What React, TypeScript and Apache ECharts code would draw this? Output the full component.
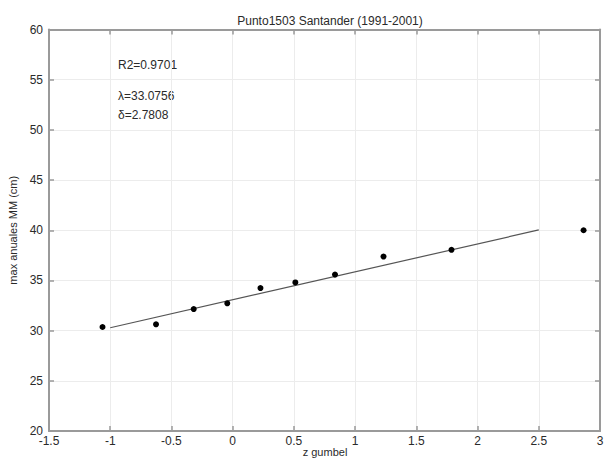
import React, { useEffect, useRef } from "react";
import * as echarts from "echarts";

const titleText = "Punto1503 Santander (1991-2001)";
const xName = "z gumbel";
const yName = "max anuales MM (cm)";
const zGumbel = [-1.063, -0.626, -0.318, -0.044, 0.227, 0.512, 0.836, 1.232, 1.787, 2.866];
const maxAnuales = [30.36, 30.63, 32.15, 32.72, 34.24, 34.8, 35.58, 37.38, 38.05, 40.0];
const fitX = [-1.0, 2.5];
const fitY = [30.29, 40.03];
const annotations = ["R2=0.9701", "λ=33.0756", "δ=2.7808"];

const axisGray = "#9a9a9a";
const textColor = "#2a2a2a";
const font = "Liberation Sans, Arial, sans-serif";

export default function App() {
  const ref = useRef<HTMLDivElement>(null);
  useEffect(() => {
    document.body.style.margin = "0";
    const chart = echarts.init(ref.current!, null, { renderer: "svg" });
    const baseX = {
      type: "value" as const,
      min: -1.5,
      max: 3,
      interval: 0.5,
      axisLine: { show: true, onZero: false, lineStyle: { color: axisGray, width: 2 } },
      axisTick: { show: true, inside: true, length: 5, lineStyle: { color: axisGray, width: 1.5 } },
    };
    const baseY = {
      type: "value" as const,
      min: 20,
      max: 60,
      interval: 5,
      axisLine: { show: true, onZero: false, lineStyle: { color: axisGray, width: 2 } },
      axisTick: { show: true, inside: true, length: 5, lineStyle: { color: axisGray, width: 1.5 } },
    };
    chart.setOption({
      animation: false,
      backgroundColor: "#ffffff",
      textStyle: { fontFamily: font },
      title: {
        text: titleText,
        left: 325,
        textAlign: "center",
        top: 10,
        textStyle: { fontSize: 12, fontWeight: "normal", color: textColor, fontFamily: font },
      },
      grid: { left: 49, right: 4, top: 29.5, bottom: 28, containLabel: false, outerBoundsMode: "none" },
      xAxis: [
        {
          ...baseX,
          position: "bottom",
          axisLabel: {
            color: textColor,
            fontSize: 12,
            margin: 4,
            fontFamily: font,
            formatter: (v: number) => String(v),
          },
          splitLine: { show: true, lineStyle: { color: "#ececec", width: 1 } },
        },
        {
          ...baseX,
          position: "top",
          axisLabel: { show: false },
          splitLine: { show: false },
        },
      ],
      yAxis: [
        {
          ...baseY,
          position: "left",
          name: yName,
          nameLocation: "middle",
          nameGap: 25,
          nameTextStyle: { fontSize: 11, color: textColor, fontFamily: font },
          axisLabel: { color: textColor, fontSize: 12, margin: 6, fontFamily: font },
          splitLine: { show: true, lineStyle: { color: "#ececec", width: 1 } },
        },
        {
          ...baseY,
          position: "right",
          axisLabel: { show: false },
          splitLine: { show: false },
        },
      ],
      graphic: [
        {
          type: "text",
          x: 325,
          y: 446,
          style: { text: xName, fontSize: 11, fill: textColor, fontFamily: font, align: "center", verticalAlign: "top" },
        },
        { type: "text", left: 118, top: 59, style: { text: annotations[0], fontSize: 12, fill: textColor, fontFamily: font } },
        { type: "text", left: 118, top: 90, style: { text: annotations[1], fontSize: 12, fill: textColor, fontFamily: font } },
        { type: "text", left: 118, top: 109, style: { text: annotations[2], fontSize: 12, fill: textColor, fontFamily: font } },
      ],
      series: [
        {
          type: "line",
          data: fitX.map((x, i) => [x, fitY[i]]),
          symbol: "none",
          lineStyle: { color: "#555555", width: 1.2 },
          z: 2,
        },
        {
          type: "scatter",
          data: zGumbel.map((x, i) => [x, maxAnuales[i]]),
          symbol: "circle",
          symbolSize: 6,
          itemStyle: { color: "#000000", opacity: 1 },
          z: 3,
        },
      ],
    });
    return () => chart.dispose();
  }, []);
  return <div ref={ref} style={{ width: 604, height: 459 }} />;
}
